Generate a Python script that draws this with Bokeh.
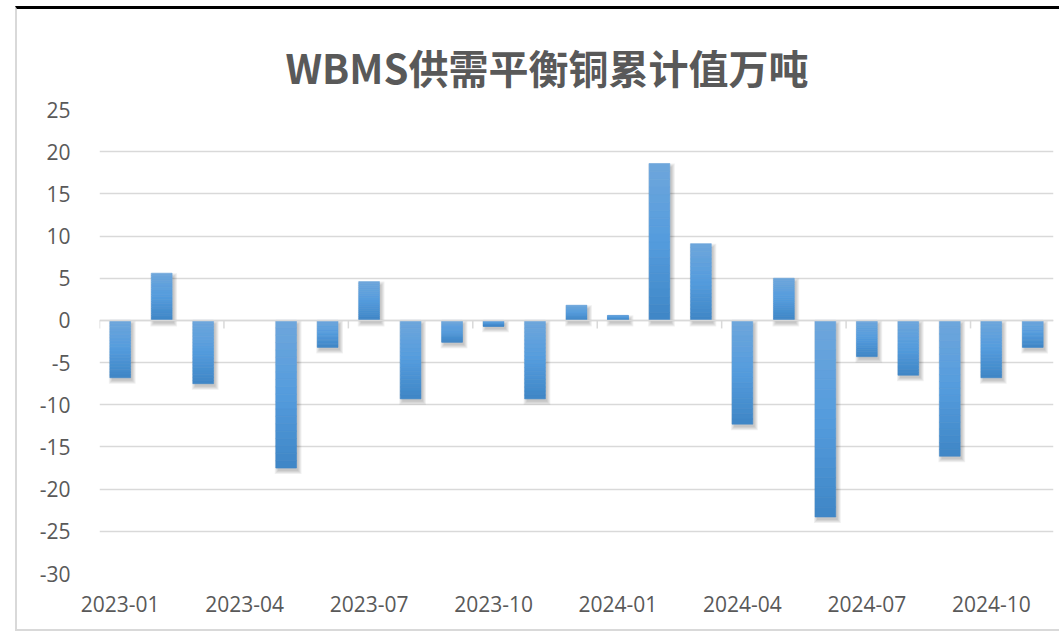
from bokeh.plotting import figure
from bokeh.models import Range1d, FixedTicker, ColumnDataSource
from bokeh.embed import file_html
from bokeh.resources import INLINE
import math

# ---- data ----
months = ["2023-01", "2023-02", "2023-03", "2023-04", "2023-05", "2023-06",
          "2023-07", "2023-08", "2023-09", "2023-10", "2023-11", "2023-12",
          "2024-01", "2024-02", "2024-03", "2024-04", "2024-05", "2024-06",
          "2024-07", "2024-08", "2024-09", "2024-10", "2024-11"]
balance = [-6.8, 5.6, -7.5, float("nan"), -17.5, -3.2,
           4.6, -9.3, -2.6, -0.7, -9.3, 1.8,
           0.6, 18.6, 9.1, -12.3, 5.0, -23.3,
           -4.3, -6.5, -16.1, -6.8, -3.2]
y_ticks = [-30, -25, -20, -15, -10, -5, 0, 5, 10, 15, 20, 25]
title_text = "WBMS供需平衡铜累计值万吨"

n = len(months)
xs = list(range(n))
label_every = 3

W, H = 1044, 625
p = figure(width=W, height=H, output_backend="svg", toolbar_location=None,
           x_range=Range1d(-0.5, n - 0.5), y_range=Range1d(y_ticks[0], y_ticks[-1]),
           min_border_left=82, min_border_right=8, min_border_top=100,
           min_border_bottom=61, background_fill_color="white",
           border_fill_color="white", outline_line_color=None)
p.margin = (6, 0, 0, 15)
p.styles = {"border-top": "3px solid #000000",
            "border-left": "2px solid #D9D9D9",
            "border-bottom": "2px solid #D9D9D9"}

# title
p.title.text = title_text
p.title.align = "left"
p.title.offset = 186
p.title.text_font = "Noto Sans CJK SC"
p.title.text_font_size = "40px"
p.title.text_font_style = "bold"
p.title.text_color = "#595959"
p.title.vertical_align = "top"
p.title.standoff = 23

# grid
p.xgrid.grid_line_color = None
p.ygrid.ticker = FixedTicker(ticks=y_ticks)
p.ygrid.grid_line_color = "#D9D9D9"
p.ygrid.grid_line_width = 1.5

# axes
p.yaxis.ticker = FixedTicker(ticks=y_ticks)
p.yaxis.major_label_overrides = {t: str(t) for t in y_ticks}
p.yaxis.axis_line_color = None
p.yaxis.major_tick_line_color = None
p.yaxis.minor_tick_line_color = None
p.yaxis.major_label_standoff = 23
p.yaxis.major_label_text_font = "Open Sans"
p.yaxis.major_label_text_font_size = "21px"
p.yaxis.major_label_text_color = "#595959"

xt = list(range(0, n, label_every))
p.xaxis.ticker = FixedTicker(ticks=xt)
p.xaxis.major_label_overrides = {i: months[i] for i in xt}
p.xaxis.axis_line_color = None
p.xaxis.major_tick_line_color = None
p.xaxis.minor_tick_line_color = None
p.xaxis.major_label_standoff = 16
p.xaxis.major_label_text_font = "Open Sans"
p.xaxis.major_label_text_font_size = "21px"
p.xaxis.major_label_text_color = "#595959"

# bars: shadow + gradient slices
valid = [(x, v) for x, v in zip(xs, balance) if not math.isnan(v)]
bw = 0.5
px_x = 41.5
px_y = 8.43
sh = dict(x=[], top=[], bottom=[], w=[])
for j in range(4):
    e = j * 1.0
    for x, v in valid:
        top, bot = max(v, 0), min(v, 0)
        sh["x"].append(x + 2.0 / px_x)
        sh["w"].append(bw + 2 * e / px_x)
        sh["top"].append(top - 3.0 / px_y + e / px_y)
        sh["bottom"].append(bot - 3.0 / px_y - e / px_y)
p.vbar(x="x", top="top", bottom="bottom", width="w", source=ColumnDataSource(sh),
       fill_color="black", fill_alpha=0.06, line_color=None)

stops = [(0.0, (110, 166, 220)), (0.5, (84, 156, 221)), (1.0, (63, 134, 198))]
def grad(t):
    for (t0, c0), (t1, c1) in zip(stops[:-1], stops[1:]):
        if t <= t1:
            f = (t - t0) / (t1 - t0)
            return "#%02x%02x%02x" % tuple(int(round(a + (b - a) * f)) for a, b in zip(c0, c1))
    return "#%02x%02x%02x" % stops[-1][1]

NS = 20
bars = dict(x=[], top=[], bottom=[], c=[])
for x, v in valid:
    top, bot = max(v, 0), min(v, 0)
    for k in range(NS):
        y1 = top - (top - bot) * k / NS
        y0 = top - (top - bot) * (k + 1) / NS
        bars["x"].append(x)
        bars["top"].append(y1)
        bars["bottom"].append(y0)
        bars["c"].append(grad((k + 0.5) / NS))
p.vbar(x="x", top="top", bottom="bottom", width=bw, source=ColumnDataSource(bars),
       fill_color="c", line_color="c", line_width=0.6)

# zero axis line with tick marks at every third month boundary
p.segment(x0=[-0.5], x1=[n - 0.5], y0=[0], y1=[0], line_color="#D9D9D9", line_width=1.5)
tb = [i - 0.5 for i in xt]
p.segment(x0=tb, x1=tb, y0=[0] * len(tb), y1=[-0.95] * len(tb),
          line_color="#D9D9D9", line_width=1.5)

open("out.html", "w").write(file_html(p, INLINE))
